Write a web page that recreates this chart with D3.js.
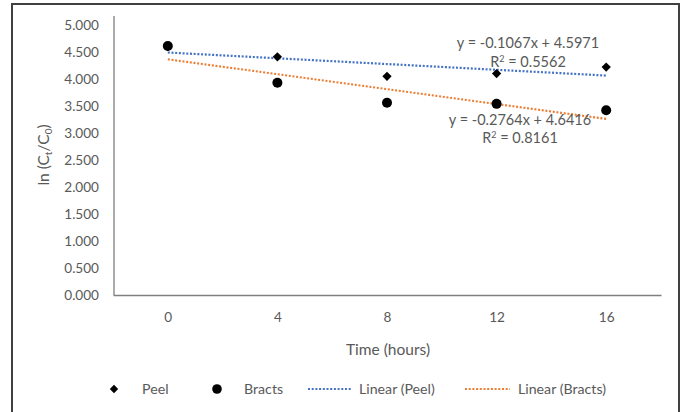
<!DOCTYPE html>
<html><head><meta charset="utf-8">
<script src="https://cdn.jsdelivr.net/npm/d3@7"></script>
<style>
html,body{margin:0;padding:0;background:#fff;}
svg text{font-family:"Lato","Open Sans",sans-serif;fill:#595959;}
</style></head>
<body><svg id="chart" width="686" height="412"></svg>
<script>
const times = [0, 4, 8, 12, 16];
const xTickLabels = ["0", "4", "8", "12", "16"];
const yTickValues = [0, 0.5, 1, 1.5, 2, 2.5, 3, 3.5, 4, 4.5, 5];
const peel = [4.60, 4.41, 4.05, 4.10, 4.22];
const bracts = [4.61, 3.93, 3.56, 3.54, 3.42];
const peelTrend = {slope: -0.1067, intercept: 4.5971, r2: "0.5562"};
const bractsTrend = {slope: -0.2764, intercept: 4.6416, r2: "0.8161"};
const legendLabels = ["Peel", "Bracts", "Linear (Peel)", "Linear (Bracts)"];

const svg = d3.select("#chart");
const blue = "#4472C4", orange = "#ED7D31";
const fs = 13.6;

// frame
svg.append("rect").attr("x", 12).attr("y", 4).attr("width", 667).attr("height", 420)
  .attr("fill", "none").attr("stroke", "#404040").attr("stroke-width", 2);

const x = d3.scaleLinear().domain([-2, 18]).range([113, 661]);
const y = d3.scaleLinear().domain([0, 5]).range([295, 25]);

// axes
const xAxis = d3.axisBottom(x).tickValues(times).tickFormat((d, i) => xTickLabels[i]).tickSize(0).tickPadding(17);
const gx = svg.append("g").attr("transform", "translate(0,295)").call(xAxis);
gx.select(".domain").attr("stroke", "#7f7f7f").attr("stroke-width", 1.3);
gx.selectAll("text").attr("font-size", fs).style("font-family", "Lato").attr("fill", "#595959");

const yAxis = d3.axisLeft(y).tickValues(yTickValues).tickFormat(d3.format(".3f")).tickSize(0).tickPadding(15);
const gy = svg.append("g").attr("transform", "translate(114,0)").call(yAxis);
gy.select(".domain").remove();
gy.selectAll("text").attr("font-size", fs).style("font-family", "Lato").attr("fill", "#595959");
svg.append("line").attr("x1", 114).attr("x2", 114).attr("y1", 16).attr("y2", 295)
  .attr("stroke", "#7f7f7f").attr("stroke-width", 1.3);

// axis titles
svg.append("text").attr("x", 388).attr("y", 355).attr("text-anchor", "middle")
  .attr("font-size", 15.5).text("Time (hours)");
const yt = svg.append("text").attr("transform", "translate(49,155) rotate(-90)")
  .attr("text-anchor", "middle").attr("font-size", 15.5);
yt.append("tspan").text("ln (C");
yt.append("tspan").attr("font-size", 10).attr("dy", 3).text("t");
yt.append("tspan").attr("dy", -3).text("/C");
yt.append("tspan").attr("font-size", 10).attr("dy", 3).text("0");
yt.append("tspan").attr("dy", -3).text(")");

// trendlines (Excel fit against point index 1..n)
function trend(t) {
  return [1, times.length].map(i => [x(times[i - 1]), y(t.slope * i + t.intercept)]);
}
const line = d3.line();
svg.append("path").attr("d", line(trend(peelTrend))).attr("stroke", blue)
  .attr("stroke-width", 2.2).attr("stroke-dasharray", "2,1.7").attr("fill", "none");
svg.append("path").attr("d", line(trend(bractsTrend))).attr("stroke", orange)
  .attr("stroke-width", 2.2).attr("stroke-dasharray", "2,1.7").attr("fill", "none");

// points
svg.append("g").selectAll("circle").data(bracts).join("circle")
  .attr("cx", (d, i) => x(times[i])).attr("cy", d => y(d)).attr("r", 5).attr("fill", "#000");
const diamond = d3.symbol().type(d3.symbolDiamond2).size(55);
svg.append("g").selectAll("path").data(peel).join("path")
  .attr("d", diamond).attr("transform", (d, i) => `translate(${x(times[i])},${y(d)})`).attr("fill", "#000");

// equations
const efs = 14.5;
function eq(t) { return "y = " + t.slope.toFixed(4) + "x + " + t.intercept.toFixed(4); }
svg.append("text").attr("x", 528).attr("y", 48).attr("text-anchor", "middle").attr("font-size", efs).text(eq(peelTrend));
const r1 = svg.append("text").attr("x", 528).attr("y", 67).attr("text-anchor", "middle").attr("font-size", efs);
r1.append("tspan").text("R");
r1.append("tspan").attr("font-size", 9).attr("dy", -5).text("2");
r1.append("tspan").attr("dy", 5).text(" = " + peelTrend.r2);
svg.append("text").attr("x", 520).attr("y", 125).attr("text-anchor", "middle").attr("font-size", efs).text(eq(bractsTrend));
const r2 = svg.append("text").attr("x", 520).attr("y", 143).attr("text-anchor", "middle").attr("font-size", efs);
r2.append("tspan").text("R");
r2.append("tspan").attr("font-size", 9).attr("dy", -5).text("2");
r2.append("tspan").attr("dy", 5).text(" = " + bractsTrend.r2);

// legend
const ly = 389, lfs = 14.2;
const lg = svg.append("g");
lg.append("path").attr("d", d3.symbol().type(d3.symbolDiamond2).size(45)).attr("transform", `translate(114,${ly})`).attr("fill", "#000");
lg.append("text").attr("x", 142).attr("y", ly + 5).attr("font-size", lfs).text(legendLabels[0]);
lg.append("circle").attr("cx", 217).attr("cy", ly).attr("r", 4.8).attr("fill", "#000");
lg.append("text").attr("x", 244).attr("y", ly + 5).attr("font-size", lfs).text(legendLabels[1]);
lg.append("line").attr("x1", 308).attr("x2", 352).attr("y1", ly).attr("y2", ly).attr("stroke", blue)
  .attr("stroke-width", 2).attr("stroke-dasharray", "2,1.7");
lg.append("text").attr("x", 359).attr("y", ly + 5).attr("font-size", lfs).text(legendLabels[2]);
lg.append("line").attr("x1", 465).attr("x2", 510).attr("y1", ly).attr("y2", ly).attr("stroke", orange)
  .attr("stroke-width", 2).attr("stroke-dasharray", "2,1.7");
lg.append("text").attr("x", 518).attr("y", ly + 5).attr("font-size", lfs).text(legendLabels[3]);
</script></body></html>
